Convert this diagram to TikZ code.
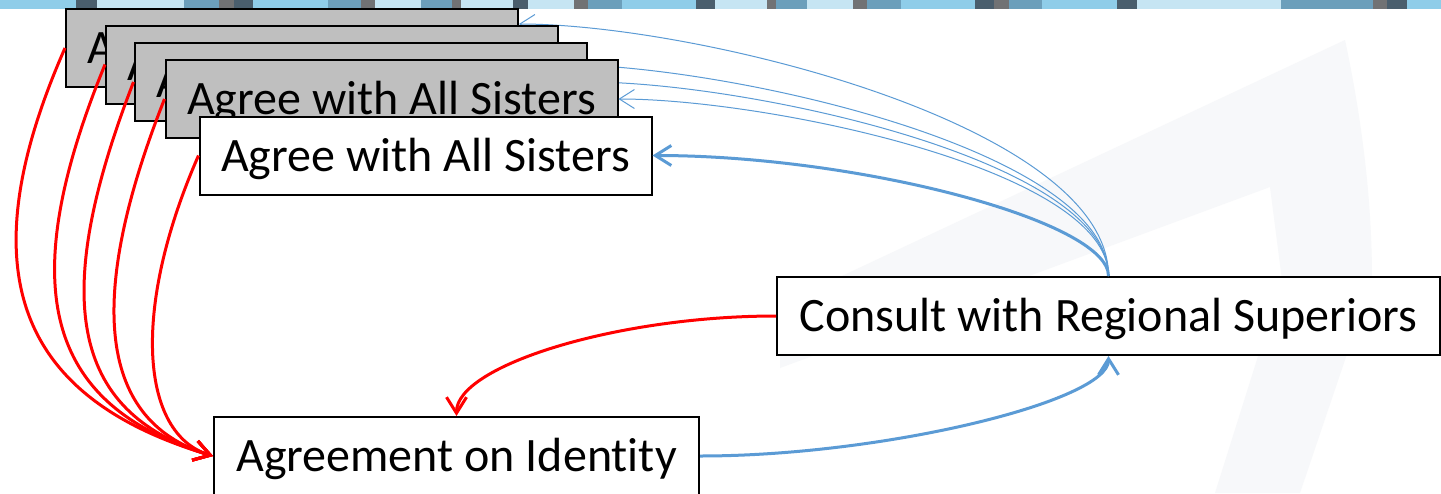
\documentclass[tikz,border=0pt]{standalone}
\usepackage{fontspec}
\setmainfont{Carlito}[Ligatures=NoCommon]
\usetikzlibrary{arrows.meta,calc}

\definecolor{skyblue}{HTML}{8FCDE9}
\definecolor{paleblue}{HTML}{C6E5F3}
\definecolor{steelblue}{HTML}{6C9FBB}
\definecolor{slate}{HTML}{4A5E6D}
\definecolor{stone}{HTML}{717274}
\definecolor{linkblue}{HTML}{5B9BD5}
\definecolor{boxgray}{HTML}{BFBFBF}
\definecolor{watermark}{HTML}{F7F8FA}

\begin{document}
\begin{tikzpicture}[x=1pt,y=-1pt,
  card/.style={draw=black, line width=2pt, rectangle, inner sep=0pt,
    minimum width=452pt, minimum height=78pt,
    font=\fontsize{48}{52}\selectfont, text height=40pt, text depth=9pt},
  graycard/.style={card, fill=boxgray},
  whitecard/.style={card, fill=white},
  redlink/.style={draw=red, line width=3pt,
    -{Straight Barb[length=16pt,width=20pt]}},
  bluelink/.style={draw=linkblue, line width=3pt,
    -{Straight Barb[length=16pt,width=20pt]}},
  bluethin/.style={draw=linkblue, line width=1pt,
    -{Straight Barb[length=15pt,width=19pt]}}]

% page and faint background band
\useasboundingbox (0,0) rectangle (1441,493);
\fill[white] (0,0) rectangle (1441,493);
\fill[watermark] (780,305) -- (1345,40)
  .. controls (1362,120) and (1372,200) .. (1372,280)
  -- (1300,493) -- (1215,493) -- (1282,280) -- (1270,187) -- (780,368) -- cycle;

% tiled strip along the top edge
\foreach \a/\b/\c in {0/76/skyblue, 76/96.5/slate, 96.5/184/paleblue,
  184/219/steelblue, 219/234/stone, 234/253/slate, 253/328/skyblue,
  328/361/steelblue, 361/375/stone, 375/421/paleblue, 421/452/steelblue,
  452/461/stone, 461/513/paleblue, 513/528/slate, 528/574/paleblue,
  574/588/stone, 588/622/steelblue, 622/696/skyblue, 696/715/slate,
  715/767/paleblue, 767/776/stone, 776/807/steelblue, 807/853/paleblue,
  853/867/stone, 867/901/steelblue, 901/975/skyblue, 975/994/slate,
  994/1009/stone, 1009/1042/steelblue, 1042/1117/skyblue, 1117/1137/slate,
  1137/1281/paleblue, 1281/1373/steelblue, 1373/1387/stone,
  1387/1407/slate, 1407/1441/skyblue}
  \fill[\c] (\a,0) rectangle (\b,9);

% main steps
\node[whitecard, minimum width=663pt] (consult) at (1108.5,316)
  {Consult with Regional Superiors};
\node[whitecard, minimum width=485pt] (identity) at (456.5,456)
  {Agreement on Identity};

% stacked copies of the agreement step
\node[graycard] (s1) at (292,48) {Agree with All Sisters};
\draw[bluethin] (consult.north) .. controls +(0,-151) and +(177,0)
  .. ($(s1.north east)!0.2!(s1.south east)$);
\node[graycard] (s2) at (332,64.5) {Agree with All Sisters};
\draw[bluethin] (consult.north) .. controls +(0,-127) and +(165,0) .. (s2.east);
\node[graycard] (s3) at (360.5,82) {Agree with All Sisters};
\draw[bluethin] (consult.north) .. controls +(0,-117) and +(156,0) .. (s3.east);
\node[graycard] (s4) at (391.5,99) {Agree with All Sisters};
\draw[bluethin] (consult.north) .. controls +(0,-107) and +(147,0) .. (s4.east);
\node[whitecard] (s5) at (425.5,155.5) {Agree with All Sisters};
\draw[bluelink] (consult.north) .. controls +(0,-55) and +(205,0) .. (s5.east);

% every copy feeds back into the identity step
\draw[redlink] (s1.west) .. controls +(-100,227) and +(-192,-57) .. (identity.west);
\draw[redlink] (s2.west) .. controls +(-90,220) and +(-170,-51) .. (identity.west);
\draw[redlink] (s3.west) .. controls +(-82,212) and +(-145,-44) .. (identity.west);
\draw[redlink] (s4.west) .. controls +(-75,190) and +(-120,-36) .. (identity.west);
\draw[redlink] (s5.west) .. controls +(-68,155) and +(-72,-22) .. (identity.west);

% loop between identity and consultation
\draw[bluelink] (identity.east) .. controls +(184,0) and +(0,45) .. (consult.south);
\draw[redlink] (consult.west) .. controls +(-160,0) and +(0,-50) .. (identity.north);
\end{tikzpicture}
\end{document}
